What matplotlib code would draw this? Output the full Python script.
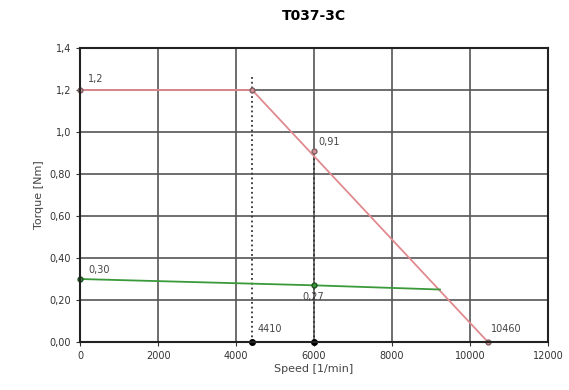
import matplotlib.pyplot as plt

# data
speed_red = [0, 4410, 10460]
torque_red = [1.2, 1.2, 0.0]
speed_green = [0, 6000, 9230]
torque_green = [0.30, 0.27, 0.25]
xticks = [0, 2000, 4000, 6000, 8000, 10000, 12000]
yticks = [0, 0.2, 0.4, 0.6, 0.8, 1.0, 1.2, 1.4]
ylabels = ["0,00", "0,20", "0,40", "0,60", "0,80", "1,0", "1,2", "1,4"]

fig = plt.figure(figsize=(5.69, 3.9), dpi=100)
ax = fig.add_axes([0.141, 0.123, 0.822, 0.754])

# grid
ax.set_xlim(0, 12000)
ax.set_ylim(0, 1.4)
ax.set_xticks(xticks)
ax.set_yticks(yticks)
ax.set_yticklabels(ylabels)
ax.grid(True, color='#555555', linewidth=1.2)
for s in ax.spines.values():
    s.set_linewidth(1.5)
    s.set_color('#222222')

# dotted markers at 4410 and 6000
ax.plot([4410, 4410], [0, 1.27], ':', color='#333333', lw=1.3)
ax.plot([6000, 6000], [0, 0.91], ':', color='#333333', lw=1.3)
ax.plot([4410, 6000], [0, 0], 'o', color='black', ms=4, clip_on=False)

# curves
ax.plot(speed_red, torque_red, color='#e08a90', lw=1.3)
ax.plot(speed_green, torque_green, color='#3a9a3a', lw=1.3)
ax.plot([0, 4410, 6000, 10460], [1.2, 1.2, 0.91, 0], 'o', ms=3.5,
        mfc='#d89098', mec='#806060', clip_on=False)
ax.plot([0, 6000], [0.30, 0.27], 'o', ms=3.5, mfc='#3a9a3a', mec='#205020',
        clip_on=False)

# value labels
tc = '#444444'
ax.text(200, 1.24, "1,2", fontsize=7, color=tc)
ax.text(6100, 0.94, "0,91", fontsize=7, color=tc)
ax.text(200, 0.33, "0,30", fontsize=7, color=tc)
ax.text(5700, 0.20, "0,27", fontsize=7, color=tc)
ax.text(4550, 0.05, "4410", fontsize=7, color=tc)
ax.text(10550, 0.05, "10460", fontsize=7, color=tc)

ax.tick_params(labelsize=7, colors='#333333', length=3)
ax.set_xlabel("Speed [1/min]", fontsize=8, color='#444444', labelpad=2)
ax.set_ylabel("Torque [Nm]", fontsize=8, color='#444444', labelpad=4)
ax.set_title("T037-3C", fontsize=10, fontweight='bold', pad=20)

fig.savefig("out.png", dpi=100)
